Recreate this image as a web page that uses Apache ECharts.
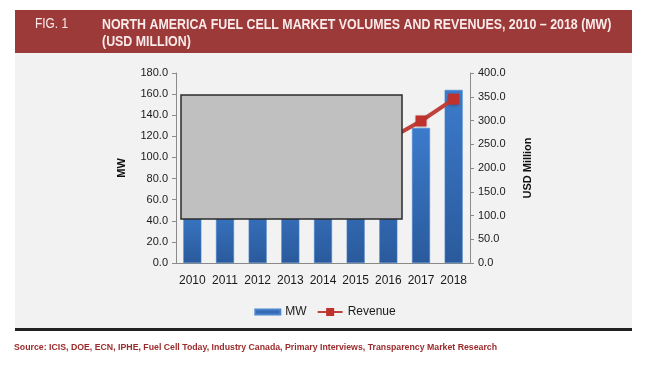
<!DOCTYPE html>
<html><head><meta charset="utf-8">
<script src="https://cdn.jsdelivr.net/npm/echarts@6/dist/echarts.min.js"></script>
<style>html,body{margin:0;padding:0;background:#fff}#c{width:650px;height:367px}</style>
</head><body><div id="c"></div>
<script>
const years = ['2010','2011','2012','2013','2014','2015','2016','2017','2018'];
// 2010-2016 values are hidden under the grey box in the reference; estimated
const mw = [55, 62, 70, 78, 88, 100, 112, 128, 164];
const revenue = [130, 148, 166, 185, 205, 230, 260, 299, 345];
const figLabel = 'FIG. 1';
const titleText = 'NORTH AMERICA FUEL CELL MARKET VOLUMES AND REVENUES, 2010 \u2013 2018 (MW)\n(USD MILLION)';
const sourceText = 'Source: ICIS, DOE, ECN, IPHE, Fuel Cell Today, Industry Canada, Primary Interviews, Transparency Market Research';

const chart = echarts.init(document.getElementById('c'), null, {renderer: 'canvas'});
const sans = "'Liberation Sans',Arial,sans-serif";
chart.setOption({
  backgroundColor: '#ffffff',
  animation: false,
  graphic: [
    {type: 'rect', z: -10, shape: {x: 15, y: 53, width: 617, height: 276}, style: {fill: '#f2f2f2'}},
    {type: 'rect', z: -9, shape: {x: 15, y: 10, width: 617, height: 43}, style: {fill: '#9c3a39'}},
    {type: 'rect', z: -9, shape: {x: 15, y: 328, width: 617, height: 3}, style: {fill: '#222'}},
    {type: 'text', z: 5, x: 35, y: 17, scaleX: 0.85, style: {text: figLabel, fill: '#fbeaea', font: '14px ' + sans}},
    {type: 'text', z: 5, x: 102, y: 16.5, scaleX: 0.885, style: {text: titleText, fill: '#fbeaea', font: 'bold 14px ' + sans, lineHeight: 17}},
    {type: 'text', z: 5, x: 14, y: 343, style: {text: sourceText, fill: '#9b2b2b', font: 'bold 8.75px ' + sans}},
    {type: 'rect', z: 100, shape: {x: 181, y: 95, width: 221, height: 124},
     style: {fill: '#c0c0c0', stroke: '#2b2b2b', lineWidth: 1.5}}
  ],
  legend: {
    bottom: 44, left: 'center',
    itemGap: 10, itemWidth: 25, itemHeight: 10,
    textStyle: {fontSize: 12, color: '#1a1a1a', fontFamily: sans},
    data: [
      {name: 'MW', icon: 'path://M0,0H26V5H0Z', itemStyle: {color: '#3468b0'}},
      {name: 'Revenue'}
    ]
  },
  grid: {left: 176, right: 180, top: 73, bottom: 104},
  xAxis: {
    type: 'category', data: years,
    axisLine: {lineStyle: {color: '#8a8a8a'}},
    axisTick: {show: false},
    axisLabel: {fontSize: 12, color: '#1a1a1a', margin: 12, fontFamily: sans, interval: 0}
  },
  yAxis: [
    {type: 'value', min: 0, max: 180, interval: 20, name: 'MW', nameLocation: 'middle', nameGap: 49, nameRotate: 90,
     nameTextStyle: {fontSize: 11, fontWeight: 'bold', color: '#111', fontFamily: sans},
     axisLine: {show: true, lineStyle: {color: '#8a8a8a'}}, axisTick: {show: true, length: 4, lineStyle: {color: '#8a8a8a'}},
     splitLine: {show: false},
     axisLabel: {fontSize: 11, color: '#1a1a1a', margin: 8, fontFamily: sans, formatter: v => v.toFixed(1)}},
    {type: 'value', min: 0, max: 400, interval: 50, name: 'USD Million', nameLocation: 'middle', nameGap: 52, nameRotate: 90,
     nameTextStyle: {fontSize: 11, fontWeight: 'bold', color: '#111', fontFamily: sans},
     axisLine: {show: true, lineStyle: {color: '#8a8a8a'}}, axisTick: {show: true, length: 4, lineStyle: {color: '#8a8a8a'}},
     splitLine: {show: false},
     axisLabel: {fontSize: 11, color: '#1a1a1a', margin: 8, fontFamily: sans, formatter: v => v.toFixed(1)}}
  ],
  series: [
    {name: 'MW', type: 'bar', data: mw, barWidth: 18, yAxisIndex: 0,
     itemStyle: {color: new echarts.graphic.LinearGradient(0, 0, 0, 1, [
       {offset: 0, color: '#3c7bcb'}, {offset: 1, color: '#2a5a9c'}]),
       borderColor: '#4a86d0', borderWidth: 0.5}},
    {name: 'Revenue', type: 'line', data: revenue, yAxisIndex: 1,
     symbol: 'rect', symbolSize: 11,
     lineStyle: {color: '#c0403a', width: 4},
     itemStyle: {color: '#c0302c', shadowColor: 'rgba(0,0,0,0.3)', shadowBlur: 3, shadowOffsetY: 1}}
  ]
});
</script></body></html>
